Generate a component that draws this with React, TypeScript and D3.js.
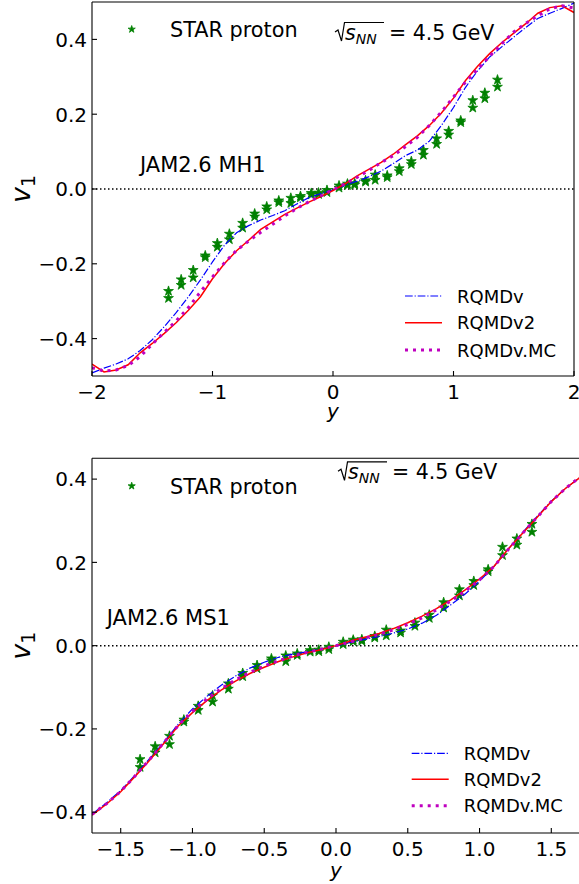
import React from "react";
import * as d3 from "d3";

// ---------- data ----------
const starY = [-1.365,-1.365,-1.26,-1.26,-1.16,-1.16,-1.06,-1.06,-0.96,-0.96,-0.86,-0.86,-0.75,-0.75,-0.65,-0.65,-0.55,-0.55,-0.45,-0.45,-0.35,-0.35,-0.27,-0.27,-0.18,-0.18,-0.12,-0.12,-0.05,-0.05,0.05,0.05,0.12,0.12,0.18,0.18,0.27,0.27,0.35,0.35,0.45,0.45,0.55,0.55,0.65,0.65,0.75,0.75,0.86,0.86,0.96,0.96,1.06,1.06,1.16,1.16,1.26,1.26,1.365,1.365];
const starV = [-0.273,-0.292,-0.242,-0.257,-0.217,-0.237,-0.178,-0.183,-0.145,-0.155,-0.120,-0.135,-0.091,-0.104,-0.066,-0.074,-0.047,-0.055,-0.031,-0.036,-0.024,-0.038,-0.019,-0.023,-0.011,-0.015,-0.010,-0.014,-0.003,-0.009,0.003,0.009,0.010,0.014,0.011,0.015,0.019,0.023,0.024,0.038,0.031,0.036,0.047,0.055,0.066,0.074,0.091,0.104,0.120,0.135,0.145,0.155,0.178,0.183,0.217,0.237,0.242,0.257,0.273,0.292];

// top panel (MH1), rapidity grid -2..2 step 0.1
const yGridTop = [-2.0,-1.9,-1.8,-1.7,-1.6,-1.5,-1.4,-1.3,-1.2,-1.1,-1.0,-0.9,-0.8,-0.7,-0.6,-0.5,-0.4,-0.3,-0.2,-0.1,0.0,0.1,0.2,0.3,0.4,0.5,0.6,0.7,0.8,0.9,1.0,1.1,1.2,1.3,1.4,1.5,1.6,1.7,1.8,1.9,2.0];
const mh1RQMDv = [-0.492,-0.479,-0.468,-0.454,-0.432,-0.403,-0.368,-0.330,-0.288,-0.243,-0.195,-0.150,-0.117,-0.098,-0.083,-0.071,-0.058,-0.040,-0.023,-0.012,-0.002,0.010,0.021,0.033,0.048,0.068,0.089,0.104,0.128,0.170,0.218,0.272,0.316,0.353,0.380,0.406,0.432,0.456,0.470,0.483,0.497];
const mh1RQMDv2 = [-0.468,-0.489,-0.484,-0.470,-0.438,-0.413,-0.386,-0.357,-0.324,-0.288,-0.240,-0.199,-0.165,-0.137,-0.108,-0.088,-0.068,-0.051,-0.035,-0.020,-0.004,0.014,0.035,0.053,0.071,0.093,0.118,0.142,0.170,0.203,0.243,0.290,0.328,0.362,0.391,0.417,0.442,0.470,0.485,0.490,0.472];
const mh1RQMDvMC = [-0.478,-0.487,-0.484,-0.472,-0.448,-0.415,-0.383,-0.352,-0.317,-0.275,-0.235,-0.197,-0.164,-0.139,-0.116,-0.094,-0.072,-0.052,-0.034,-0.018,-0.002,0.014,0.031,0.050,0.071,0.089,0.113,0.138,0.170,0.206,0.246,0.286,0.320,0.355,0.388,0.420,0.443,0.463,0.482,0.490,0.484];

// bottom panel (MS1), rapidity grid -1.7..1.7 step 0.1
const yGridBot = [-1.7,-1.6,-1.5,-1.4,-1.3,-1.2,-1.1,-1.0,-0.9,-0.8,-0.7,-0.6,-0.5,-0.4,-0.3,-0.2,-0.1,0.0,0.1,0.2,0.3,0.4,0.5,0.6,0.7,0.8,0.9,1.0,1.1,1.2,1.3,1.4,1.5,1.6,1.7];
const ms1RQMDv = [-0.405,-0.378,-0.348,-0.311,-0.272,-0.232,-0.189,-0.152,-0.122,-0.095,-0.073,-0.054,-0.040,-0.028,-0.020,-0.015,-0.008,-0.001,0.008,0.015,0.022,0.030,0.040,0.054,0.073,0.098,0.124,0.155,0.190,0.232,0.272,0.310,0.347,0.378,0.404];
const ms1RQMDv2 = [-0.407,-0.381,-0.351,-0.314,-0.276,-0.235,-0.193,-0.161,-0.132,-0.107,-0.085,-0.067,-0.052,-0.038,-0.027,-0.017,-0.009,0.000,0.011,0.020,0.029,0.041,0.055,0.071,0.089,0.110,0.134,0.160,0.190,0.232,0.270,0.308,0.346,0.378,0.404];
const ms1RQMDvMC = [-0.405,-0.380,-0.350,-0.313,-0.274,-0.233,-0.192,-0.158,-0.128,-0.103,-0.082,-0.064,-0.049,-0.036,-0.025,-0.016,-0.008,0.000,0.009,0.018,0.027,0.038,0.051,0.067,0.086,0.107,0.131,0.158,0.190,0.231,0.270,0.308,0.346,0.378,0.405];

const xTicksTop = [-2, -1, 0, 1, 2];
const xTicksBot = [-1.5, -1.0, -0.5, 0.0, 0.5, 1.0, 1.5];
const yTicks = [-0.4, -0.2, 0.0, 0.2, 0.4];
const legendLabels = ["RQMDv", "RQMDv2", "RQMDv.MC"];

const FONT = "DejaVu Sans, sans-serif";
const fmtMinus = (s: string) => s.replace("-", "\u2212");

const styles = [
  { color: "#0000ff", width: 1.2, dash: "7.7,1.9,1.2,1.9" },
  { color: "#ff0000", width: 1.5, dash: "" },
  { color: "#bf00bf", width: 3, dash: "3,5" },
];

const star = d3.symbol().type(d3.symbolStar);

function Panel(props: {
  id: string;
  xDomain: [number, number];
  xRange: [number, number];
  yDomain: [number, number];
  yRange: [number, number];
  xTicks: number[];
  xFmt: (v: number) => string;
  grid: number[];
  series: number[][];
  label: string;
  labelPos: [number, number];
  energyPos: [number, number];
  starLegendY: number;
  legendX: number;
  legendYs: number[];
  xLabelY: number;
  drawRight: boolean;
}) {
  const x = d3.scaleLinear().domain(props.xDomain).range(props.xRange);
  const y = d3.scaleLinear().domain(props.yDomain).range(props.yRange);
  const [x0, x1] = props.xRange;
  const [yb, yt] = props.yRange;
  const line = d3
    .line<number>()
    .x((_, i) => x(props.grid[i]))
    .y((d) => y(d));
  const [ex, ey] = props.energyPos;
  return (
    <g>
      <defs>
        <clipPath id={props.id}>
          <rect x={x0} y={yt} width={x1 - x0} height={yb - yt} />
        </clipPath>
      </defs>
      {/* zero line */}
      <line x1={x0} x2={x1} y1={y(0)} y2={y(0)} stroke="#000" strokeWidth={1.5} strokeDasharray="1.5,2.5" />
      <g clipPath={`url(#${props.id})`}>
        {starY.map((sy, i) => (
          <path
            key={i}
            d={star.size(30)() as string}
            transform={`translate(${x(sy)},${y(starV[i])})`}
            fill="#008000"
            stroke="#008000"
            strokeWidth={0.8}
          />
        ))}
        {props.series.map((s, k) => (
          <path
            key={k}
            d={line(s) as string}
            fill="none"
            stroke={styles[k].color}
            strokeWidth={styles[k].width}
            strokeDasharray={styles[k].dash}
          />
        ))}
      </g>
      {/* spines */}
      <g stroke="#000" strokeWidth={1.1} fill="none">
        <line x1={x0} x2={x0} y1={yt} y2={yb} />
        <line x1={x0} x2={x1} y1={yb} y2={yb} />
        <line x1={x0} x2={x1} y1={yt} y2={yt} />
        {props.drawRight && <line x1={x1} x2={x1} y1={yt} y2={yb} />}
      </g>
      {/* ticks */}
      {props.xTicks.map((t) => (
        <g key={"x" + t}>
          <line x1={x(t)} x2={x(t)} y1={yb} y2={yb - 5} stroke="#000" strokeWidth={1.1} />
          <text x={x(t)} y={yb + 23} fontSize={20} fontFamily={FONT} textAnchor="middle">
            {fmtMinus(props.xFmt(t))}
          </text>
        </g>
      ))}
      {yTicks.map((t) => (
        <g key={"y" + t}>
          <line x1={x0} x2={x0 + 5} y1={y(t)} y2={y(t)} stroke="#000" strokeWidth={1.1} />
          <text x={x0 - 5} y={y(t) + 7.3} fontSize={20} fontFamily={FONT} textAnchor="end">
            {fmtMinus(t.toFixed(1))}
          </text>
        </g>
      ))}
      {/* axis labels */}
      <text
        transform={`translate(${30},${(yt + yb) / 2}) rotate(-90)`}
        fontSize={27}
        fontFamily={FONT}
        textAnchor="middle"
      >
        <tspan fontStyle="italic">v</tspan>
        <tspan fontSize={19} dy={5}>1</tspan>
      </text>
      <text x={x(0)} y={props.xLabelY} fontSize={20} fontFamily={FONT} fontStyle="italic" textAnchor="middle">
        y
      </text>
      {/* annotations */}
      <text x={props.labelPos[0]} y={props.labelPos[1]} fontSize={21} fontFamily={FONT}>
        {props.label}
      </text>
      <path
        d={`M${ex},${ey - 8} L${ex + 3},${ey - 10} L${ex + 6.5},${ey + 1} L${ex + 9.5},${ey - 17.5} L${ex + 49},${ey - 17.5}`}
        fill="none"
        stroke="#000"
        strokeWidth={1.2}
      />
      <text x={ex + 10} y={ey} fontSize={20.5} fontFamily={FONT}>
        <tspan fontStyle="italic">s</tspan>
        <tspan fontSize={14} dy={4} fontStyle="italic">NN</tspan>
      </text>
      <text x={ex + 54} y={ey} fontSize={20.5} fontFamily={FONT}>
        = 4.5 GeV
      </text>
      {/* STAR legend */}
      <path
        d={star.size(16)() as string}
        transform={`translate(131.7,${props.starLegendY})`}
        fill="#008000"
        stroke="#008000"
        strokeWidth={0.8}
      />
      <text x={170} y={props.starLegendY + 7.5} fontSize={20.8} fontFamily={FONT}>
        STAR proton
      </text>
      {/* model legend */}
      {legendLabels.map((lab, k) => (
        <g key={lab}>
          <line
            x1={props.legendX}
            x2={props.legendX + 37}
            y1={props.legendYs[k]}
            y2={props.legendYs[k]}
            stroke={styles[k].color}
            strokeWidth={styles[k].width}
            strokeDasharray={styles[k].dash}
          />
          <text x={props.legendX + 52} y={props.legendYs[k] + 6.5} fontSize={18} fontFamily={FONT}>
            {lab}
          </text>
        </g>
      ))}
    </g>
  );
}

export default function App() {
  return (
    <svg
      width={579}
      height={884}
      style={{ position: "absolute", left: 0, top: 0, background: "#fff" }}
    >
      <rect width={579} height={884} fill="#fff" />
      <Panel
        id="clipTop"
        xDomain={[-2, 2]}
        xRange={[92, 574]}
        yDomain={[-0.5, 0.5]}
        yRange={[376, 2]}
        xTicks={xTicksTop}
        xFmt={(v) => String(v)}
        grid={yGridTop}
        series={[mh1RQMDv, mh1RQMDv2, mh1RQMDvMC]}
        label="JAM2.6 MH1"
        labelPos={[140, 172]}
        energyPos={[335, 40]}
        starLegendY={29.3}
        legendX={405}
        legendYs={[296, 322.7, 350]}
        xLabelY={418}
        drawRight={true}
      />
      <Panel
        id="clipBot"
        xDomain={[-1.7, 1.7]}
        xRange={[92, 580]}
        yDomain={[-0.45, 0.45]}
        yRange={[833, 458.3]}
        xTicks={xTicksBot}
        xFmt={(v) => v.toFixed(1)}
        grid={yGridBot}
        series={[ms1RQMDv, ms1RQMDv2, ms1RQMDvMC]}
        label="JAM2.6 MS1"
        labelPos={[106.7, 625]}
        energyPos={[338, 479.3]}
        starLegendY={486}
        legendX={411.7}
        legendYs={[753.3, 779.3, 805.7]}
        xLabelY={877}
        drawRight={false}
      />
    </svg>
  );
}
